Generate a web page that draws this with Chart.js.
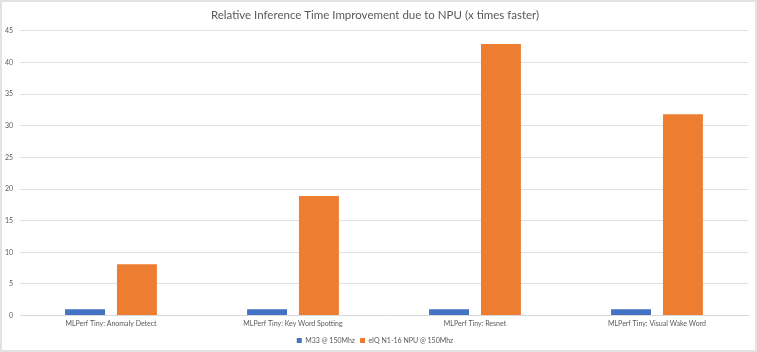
<!DOCTYPE html>
<html lang="en">
<head>
    <meta charset="UTF-8">
    <title>Relative Inference Time Improvement due to NPU</title>
    <script src="https://cdn.jsdelivr.net/npm/chart.js"></script>
    <style>
        html, body { margin: 0; padding: 0; background: #fff; }
        .frame {
            width: 753px;
            height: 348px;
            border: 2px solid #e3e3e3;
            background: #fff;
        }
    </style>
</head>
<body>
    <div class="frame">
        <canvas id="npuChart" width="753" height="348"></canvas>
    </div>
    <script>
        const categories = [
            'MLPerf Tiny: Anomaly Detect',
            'MLPerf Tiny: Key Word Spotting',
            'MLPerf Tiny: Resnet',
            'MLPerf Tiny: Visual Wake Word'
        ];
        const m33Values = [1, 1, 1, 1];
        const npuValues = [8.1, 18.9, 42.9, 31.8];
        const seriesNames = ['M33 @ 150Mhz', 'eIQ N1-16 NPU @ 150Mhz'];

        const textColor = '#595959';
        const fontFamily = 'Lato, "Open Sans", sans-serif';

        const ctx = document.getElementById('npuChart').getContext('2d');
        new Chart(ctx, {
            type: 'bar',
            data: {
                labels: categories,
                datasets: [{
                    label: seriesNames[0],
                    data: m33Values,
                    backgroundColor: '#4472C4',
                    barPercentage: 0.77,
                    categoryPercentage: 0.57
                }, {
                    label: seriesNames[1],
                    data: npuValues,
                    backgroundColor: '#ED7D31',
                    barPercentage: 0.77,
                    categoryPercentage: 0.57
                }]
            },
            options: {
                responsive: false,
                animation: false,
                layout: {
                    padding: { left: 0, right: 7, top: 4, bottom: -4 }
                },
                plugins: {
                    title: {
                        display: true,
                        text: 'Relative Inference Time Improvement due to NPU (x times faster)',
                        color: textColor,
                        font: { family: fontFamily, size: 11.5, weight: 'normal' },
                        padding: { top: 2, bottom: 9 }
                    },
                    legend: {
                        position: 'bottom',
                        labels: {
                            color: textColor,
                            font: { family: fontFamily, size: 7 },
                            boxWidth: 5,
                            boxHeight: 5,
                            padding: 5
                        }
                    },
                    tooltip: { enabled: false }
                },
                scales: {
                    x: {
                        grid: { display: false, drawTicks: false },
                        border: { color: '#d9d9d9' },
                        ticks: {
                            color: textColor,
                            font: { family: fontFamily, size: 7 },
                            padding: 4,
                            maxRotation: 0
                        }
                    },
                    y: {
                        min: 0,
                        max: 45,
                        grid: { color: '#e1e1e1', drawTicks: false },
                        border: { display: false },
                        afterFit: function(axis) { axis.width = 18; },
                        ticks: {
                            stepSize: 5,
                            color: textColor,
                            font: { family: fontFamily, size: 7 },
                            padding: 7
                        }
                    }
                }
            }
        });
    </script>
</body>
</html>
